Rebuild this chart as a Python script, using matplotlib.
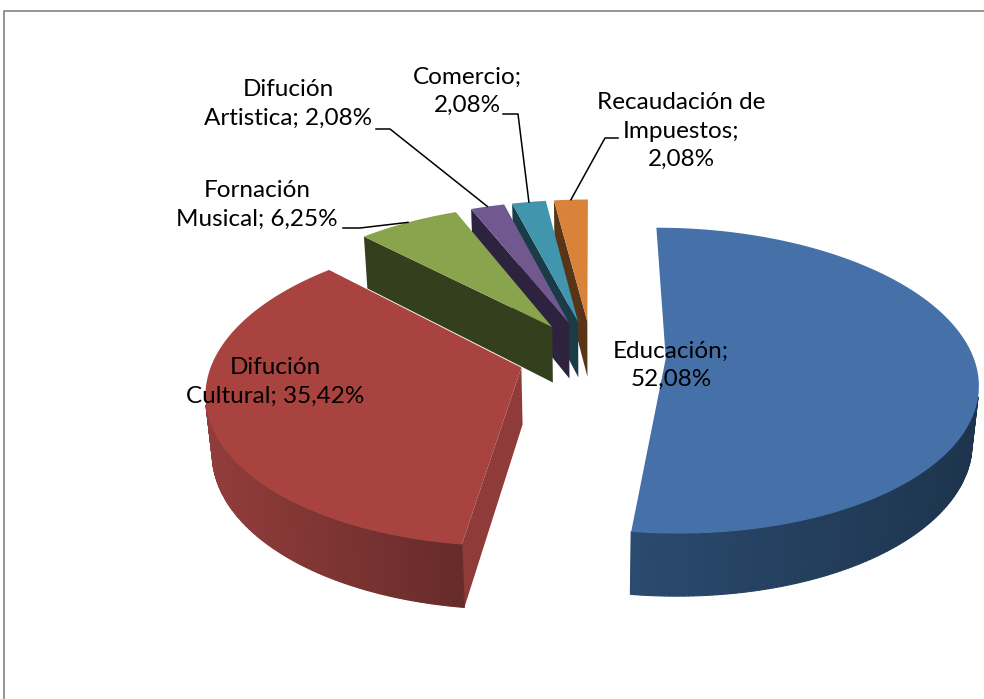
import numpy as np
import matplotlib
matplotlib.use('Agg')
import matplotlib.pyplot as plt
from matplotlib.patches import Polygon
from matplotlib.colors import to_rgb

# Datos del grafico
categorias = ["Educación", "Difución Cultural", "Fornación Musical",
              "Difución Artistica", "Comercio", "Recaudación de Impuestos"]
valores = [52.08, 35.42, 6.25, 2.08, 2.08, 2.08]
etiquetas = ["Educación;\n{}", "Difución\nCultural; {}", "Fornación\nMusical; {}",
             "Difución\nArtistica; {}", "Comercio;\n{}", "Recaudación de\nImpuestos;\n{}"]

col_sup = ["#4571A8", "#A8433F", "#88A54E", "#71588F", "#4196AE", "#D9823A"]
col_lado = ["#2A4A6E", "#923D3B", "#36421E", "#2E2440", "#1B3E4A", "#5C3719"]

# camara / perspectiva (aprox. Excel 3D)
PHI = np.radians(29)
D = 6.02
F = 1850
CX, CY = 592, 356
EXPL = 0.24
H = 0.214


def proj(X, Y, Z):
    yc = Y * np.sin(PHI) + Z * np.cos(PHI)
    zc = D + Y * np.cos(PHI) - Z * np.sin(PHI)
    return CX + F * X / zc, CY - F * yc / zc


cam = np.array([0.0, -D * np.cos(PHI), D * np.sin(PHI)])


def visible(nx, ny, px, py):
    return nx * (cam[0] - px) + ny * (cam[1] - py) > 0


fig = plt.figure(figsize=(9.84, 6.99), dpi=100)
ax = fig.add_axes([0, 0, 1, 1])
ax.set_xlim(0, 984)
ax.set_ylim(699, 0)
ax.axis('off')

# borde del area del grafico
ax.plot([4, 4, 984], [699, 11, 11], color='#8c8c8c', lw=1.3, solid_capstyle='butt')

# angulos de cada porcion (empieza arriba, sentido horario)
total = sum(valores)
fin = 90 - np.cumsum(valores) / total * 360
ini = np.concatenate([[90], fin[:-1]])

slices = []
for i in range(len(valores)):
    hi, lo = ini[i], fin[i]
    mid = np.radians((hi + lo) / 2)
    ox, oy = EXPL * np.cos(mid), EXPL * np.sin(mid)
    slices.append((i, hi, lo, ox, oy, mid))

# ordenar de atras hacia adelante
slices.sort(key=lambda s: -s[4])

anclas = {}
for i, hi, lo, ox, oy, mid in slices:
    th = np.radians(np.linspace(lo, hi, 240))
    ptsX = ox + np.cos(th)
    ptsY = oy + np.sin(th)
    base = np.array(to_rgb(col_lado[i]))

    # paredes radiales (solo las que miran al frente)
    for ang, sgn in ((np.radians(hi), 1), (np.radians(lo), -1)):
        ny = sgn * np.cos(ang)
        if ny < -0.01:
            ex, ey = ox + np.cos(ang), oy + np.sin(ang)
            quad = [proj(ox, oy, 0), proj(ex, ey, 0), proj(ex, ey, -H), proj(ox, oy, -H)]
            ax.add_patch(Polygon(quad, closed=True, fc=base * 0.97, ec='none', zorder=2))

    # pared exterior (degradado)
    vis = [visible(np.cos(t), np.sin(t), x, y) for t, x, y in zip(th, ptsX, ptsY)]
    sx_all = [proj(x, y, 0)[0] for x, y, v in zip(ptsX, ptsY, vis) if v]
    if sx_all:
        xmin, xmax = min(sx_all), max(sx_all)
        for k in range(len(th) - 1):
            if not (vis[k] and vis[k + 1]):
                continue
            p1 = proj(ptsX[k], ptsY[k], 0)
            p2 = proj(ptsX[k + 1], ptsY[k + 1], 0)
            p3 = proj(ptsX[k + 1], ptsY[k + 1], -H)
            p4 = proj(ptsX[k], ptsY[k], -H)
            f = (p1[0] - xmin) / max(xmax - xmin, 1)
            c = np.clip(base * (1.0 - 0.3 * f), 0, 1)
            ax.add_patch(Polygon([p1, p2, p3, p4], closed=True, fc=c, ec=c, lw=0.8, zorder=2))

    # cara superior
    top = [proj(ox, oy, 0)] + [proj(x, y, 0) for x, y in zip(ptsX, ptsY)]
    ax.add_patch(Polygon(top, closed=True, fc=col_sup[i], ec='none', zorder=2))

    anclas[i] = proj(ox + np.cos(mid), oy + np.sin(mid), 0)

# etiquetas
pos_etq = [(671, 365), (275, 382), (257, 205), (288, 104), (467, 91), (681, 131)]
guias = [None, None, [(343, 228), (360, 228)], [(376, 129), (390, 129)],
         [(503, 114), (518, 114)], [(618, 138), (605, 138)]]

for i, v in enumerate(valores):
    txt = etiquetas[i].format(f"{v:.2f}".replace('.', ',') + '%')
    ax.text(pos_etq[i][0], pos_etq[i][1], txt, ha='center', va='center',
            multialignment='center', fontsize=17.5, family='Lato',
            color='black', linespacing=1.42, zorder=5)
    if guias[i] is not None:
        (x0, y0), (x1, y1) = guias[i]
        xa, ya = anclas[i]
        ax.plot([x0, x1, xa], [y0, y1, ya], color='black', lw=1.1, zorder=4)

fig.savefig('out.png', dpi=100, facecolor='white')
